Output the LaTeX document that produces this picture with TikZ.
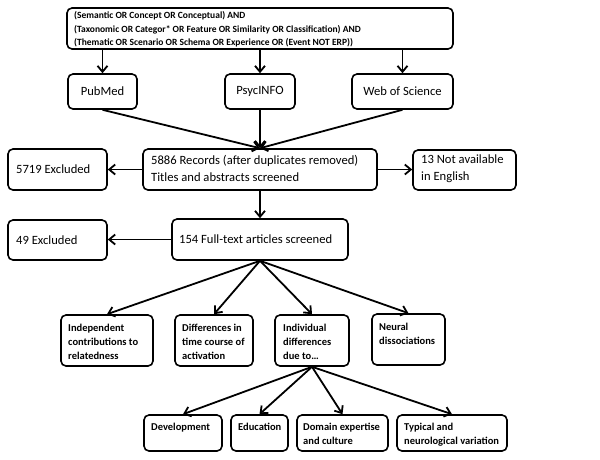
\documentclass[tikz,border=0pt]{standalone}
\usepackage{fontspec}
\setmainfont{Carlito}
\usetikzlibrary{arrows.meta,fit}
\begin{document}
\begin{tikzpicture}[x=1pt,y=-1pt,
 box/.style={draw, line width=1.6pt, rounded corners=5pt, inner sep=0pt},
 txt/.style={anchor=north west, inner sep=0pt, align=left},
 big/.style={font=\fontsize{12.6}{17}\selectfont},
 small/.style={font=\bfseries\fontsize{10.5}{14}\selectfont},
 query/.style={font=\bfseries\fontsize{9.5}{13.3}\selectfont},
 arr/.style={line width=1.8pt, -{Straight Barb[length=6pt,width=10pt,line width=1.8pt]}}]
\useasboundingbox (0,0) rectangle (600,459);
% query
\node[box, fit={(67,8) (453,49)}] (query) {};
\node[txt, query] (queryt) at (74,11.5) {(Semantic OR Concept OR Conceptual) AND\\(Taxonomic OR Categor* OR Feature OR Similarity OR Classification) AND\\(Thematic OR Scenario OR Schema OR Experience OR (Event NOT ERP))};
% databases
\node[box, fit={(68,74) (137,109)}] (pubmed) {};
\node[big, inner sep=0pt] (pubmedt) at (pubmed.center) {PubMed};
\node[box, fit={(225,74) (295,109)}] (psyc) {};
\node[big, inner sep=0pt] (psyct) at (psyc.center) {PsycINFO};
\node[box, fit={(352,74) (453,109)}] (wos) {};
\node[big, inner sep=0pt] (wost) at (wos.center) {Web of Science};
% records
\node[box, fit={(143,149) (377,190)}] (records) {};
\node[txt, big] (recordst) at (151,155) {5886 Records (after duplicates removed)\\Titles and abstracts screened};
\node[box, fit={(8,149) (107,190)}] (exclA) {};
\node[big, anchor=west, inner sep=0pt] (exclAt) at (16,169.5) {5719 Excluded};
\node[box, fit={(413,150) (516,190)}] (nae) {};
\node[txt, big] (naet) at (421,155) {13 Not available\\in English};
% full text
\node[box, fit={(172,219) (348,260)}] (full) {};
\node[big, anchor=west, inner sep=0pt] (fullt) at (179,239.5) {154 Full-text articles screened};
\node[box, fit={(8,220) (107,260)}] (exclB) {};
\node[big, anchor=west, inner sep=0pt] (exclBt) at (16,240) {49 Excluded};
% level 1
\node[box, fit={(61,315) (153,366)}] (indep) {};
\node[txt, small] (indept) at (68,324) {Independent\\contributions to\\relatedness};
\node[box, fit={(175,315) (253,366)}] (diff) {};
\node[txt, small] (difft) at (182,324) {Differences in\\time course of\\activation};
\node[box, fit={(275,315) (349,366)}] (indiv) {};
\node[txt, small] (indivt) at (283,324) {Individual\\differences\\due to\dots};
\node[box, fit={(372,314) (445,365)}] (neural) {};
\node[txt, small] (neuralt) at (379,323) {Neural\\dissociations};
% level 2
\node[box, fit={(144,415) (222,451)}] (dev) {};
\node[txt, small] (devt) at (151,423) {Development};
\node[box, fit={(231,415) (288,451)}] (edu) {};
\node[txt, small] (edut) at (238,423) {Education};
\node[box, fit={(297,415) (388,451)}] (dom) {};
\node[txt, small] (domt) at (303,423) {Domain expertise\\and culture};
\node[box, fit={(397,415) (507,451)}] (typ) {};
\node[txt, small] (typt) at (404,423) {Typical and\\neurological variation};
% connectors
\draw[arr] (query.south -| pubmed) -- (pubmed.north);
\draw[arr] (query.south -| psyc) -- (psyc.north);
\draw[arr] (query.south -| wos) -- (wos.north);
\draw[arr] (pubmed.south) -- (records.north);
\draw[arr] (psyc.south) -- (records.north);
\draw[arr] (wos.south) -- (records.north);
\draw[arr] (records.west) -- (records.west -| exclA.east);
\draw[arr] (records.east) -- (records.east -| nae.west);
\draw[arr] (records.south) -- (full.north);
\draw[arr] (full.west) -- (full.west -| exclB.east);
\draw[arr] (full.south) -- (indep.north);
\draw[arr] (full.south) -- (diff.north);
\draw[arr] (full.south) -- (indiv.north);
\draw[arr] (full.south) -- (neural.north);
\draw[arr] (indiv.south) -- (dev.north);
\draw[arr] (indiv.south) -- (edu.north);
\draw[arr] (indiv.south) -- (dom.north);
\draw[arr] (indiv.south) -- (typ.north);
\end{tikzpicture}
\end{document}
